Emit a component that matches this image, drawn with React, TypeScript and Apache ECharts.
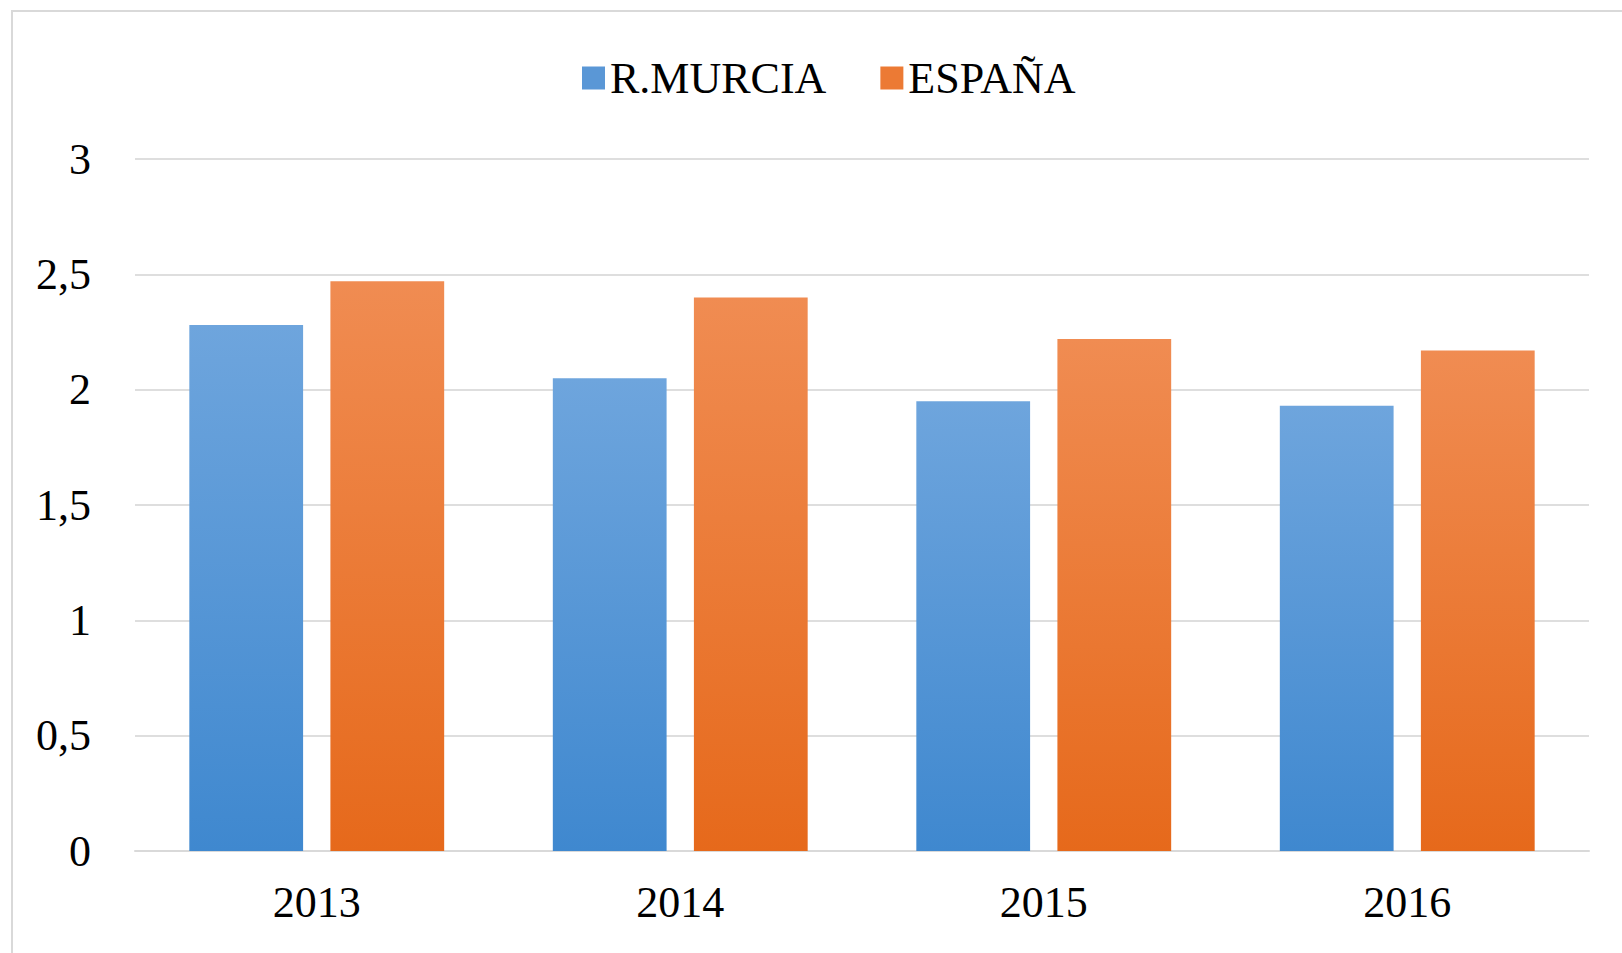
import React, { useEffect, useRef } from "react";
import * as echarts from "echarts";

const categories = ["2013", "2014", "2015", "2016"];
const murcia = [2.28, 2.05, 1.95, 1.93];
const espana = [2.47, 2.4, 2.22, 2.17];
const seriesNames = ["R.MURCIA", "ESPAÑA"];

const FONT = "'Liberation Serif', 'Times New Roman', serif";

export default function App() {
  const ref = useRef<HTMLDivElement>(null);
  useEffect(() => {
    if (!ref.current) return;
    const chart = echarts.init(ref.current, undefined, { renderer: "svg" });
    const blue = new echarts.graphic.LinearGradient(0, 0, 0, 1, [
      { offset: 0, color: "#6ea5dd" },
      { offset: 1, color: "#3f88cf" },
    ]);
    const orange = new echarts.graphic.LinearGradient(0, 0, 0, 1, [
      { offset: 0, color: "#f08c52" },
      { offset: 1, color: "#e6691b" },
    ]);
    chart.setOption({
      animation: false,
      backgroundColor: "#ffffff",
      graphic: [
        {
          type: "rect",
          shape: { x: 12, y: 11, width: 1700, height: 1000 },
          style: { fill: "none", stroke: "#d9d9d9", lineWidth: 2 },
          silent: true,
        },
      ],
      legend: {
        left: 577,
        top: 51,
        itemWidth: 23,
        itemHeight: 23,
        itemGap: 54,
        icon: "rect",
        textStyle: { fontFamily: FONT, fontSize: 44, color: "#000" },
        data: [
          { name: seriesNames[0], itemStyle: { color: "#5a97d6" } },
          { name: seriesNames[1], itemStyle: { color: "#ec7a34" } },
        ],
      },
      grid: { left: 135, right: 33, top: 159, bottom: 102 },
      xAxis: {
        type: "category",
        data: categories,
        axisTick: { show: false },
        axisLine: { show: true, lineStyle: { color: "#d9d9d9", width: 2 } },
        axisLabel: { fontFamily: FONT, fontSize: 44, color: "#000", margin: 29 },
      },
      yAxis: {
        type: "value",
        min: 0,
        max: 3,
        interval: 0.5,
        axisLine: { show: false },
        axisTick: { show: false },
        splitLine: { lineStyle: { color: "#dedede", width: 2 } },
        axisLabel: {
          fontFamily: FONT,
          fontSize: 44,
          color: "#000",
          margin: 44,
          formatter: (v: number) => String(v).replace(".", ","),
        },
      },
      series: [
        {
          name: seriesNames[0],
          type: "bar",
          data: murcia,
          barWidth: "31.3%",
          barGap: "24%",
          itemStyle: { color: blue },
        },
        {
          name: seriesNames[1],
          type: "bar",
          data: espana,
          barWidth: "31.3%",
          barGap: "24%",
          itemStyle: { color: orange },
        },
      ],
    });
    return () => chart.dispose();
  }, []);
  return (
    <div
      ref={ref}
      style={{ position: "fixed", left: 0, top: 0, width: 1622, height: 953 }}
    />
  );
}
